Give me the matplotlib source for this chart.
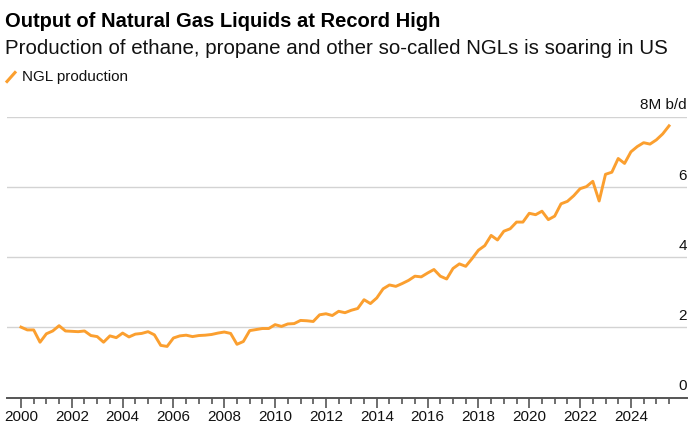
import matplotlib
matplotlib.use('Agg')
import matplotlib.pyplot as plt
import matplotlib.transforms as mtransforms
from matplotlib.lines import Line2D
import numpy as np

# quarterly NGL production, million barrels per day
start_year = 2000
ngl = [2.01, 1.93, 1.93, 1.58, 1.82, 1.90, 2.05, 1.90,   # 2000-2001
       1.89, 1.88, 1.90, 1.77, 1.74, 1.58, 1.76, 1.71,   # 2002-2003
       1.84, 1.73, 1.81, 1.83, 1.88, 1.79, 1.49, 1.46,   # 2004-2005
       1.70, 1.76, 1.78, 1.74, 1.77, 1.78, 1.80, 1.84,   # 2006-2007
       1.87, 1.83, 1.52, 1.60, 1.91, 1.94, 1.97, 1.97,   # 2008-2009
       2.08, 2.03, 2.10, 2.11, 2.20, 2.19, 2.17, 2.36,   # 2010-2011
       2.39, 2.34, 2.46, 2.42, 2.49, 2.54, 2.79, 2.68,   # 2012-2013
       2.84, 3.10, 3.21, 3.17, 3.25, 3.34, 3.46, 3.44,   # 2014-2015
       3.55, 3.65, 3.46, 3.38, 3.68, 3.81, 3.74, 3.96,   # 2016-2017
       4.20, 4.33, 4.62, 4.49, 4.74, 4.81, 5.00, 5.00,   # 2018-2019
       5.25, 5.21, 5.31, 5.07, 5.17, 5.52, 5.59, 5.75,   # 2020-2021
       5.95, 6.01, 6.16, 5.60, 6.36, 6.42, 6.81, 6.67,   # 2022-2023
       7.00, 7.15, 7.26, 7.22, 7.34, 7.51, 7.74]         # 2024-2025
dates = start_year + np.arange(len(ngl)) / 4.0

year_ticks = list(range(2000, 2025, 2))
y_ticks = [0, 2, 4, 6, 8]
y_labels = ['0', '2', '4', '6', '8M b/d']

orange = '#fb9f2f'
plt.rcParams['font.family'] = ['Liberation Sans', 'DejaVu Sans']

fig = plt.figure(figsize=(6.98, 4.30), dpi=100)
ax = fig.add_axes([0.010, 0.0751, 0.974, 0.6535])

ax.plot(dates, ngl, color=orange, lw=2.1, solid_joinstyle='round', zorder=3)

ax.set_xlim(1999.45, 2026.2)
ax.set_ylim(0, 8)

for v in y_ticks[1:]:
    ax.axhline(v, color='#d3d3d3', lw=1.0, zorder=1)

for s in ['top', 'right', 'left']:
    ax.spines[s].set_visible(False)
ax.spines['bottom'].set_color('#555555')
ax.spines['bottom'].set_linewidth(1.4)

# y labels sit above their gridlines, right aligned
ax.set_yticks([])
trans = mtransforms.blended_transform_factory(ax.transAxes, ax.transData)
for v, lab in zip(y_ticks, y_labels):
    ax.text(1.0, v + 0.12, lab, transform=trans, ha='right', va='bottom',
            fontsize=11, color='#111111')

ax.set_xticks(year_ticks)
ax.set_xticklabels([str(y) for y in year_ticks], fontsize=11, color='#111111')
ax.set_xticks(np.arange(2000, 2025.6, 0.5), minor=True)
ax.tick_params(axis='x', which='major', length=7, width=1.2, color='#555555', pad=2)
ax.tick_params(axis='x', which='minor', length=4, width=1.2, color='#555555')

fig.text(0.007, 1 - 27 / 430, 'Output of Natural Gas Liquids at Record High',
         fontsize=14.5, fontweight='bold', va='baseline', ha='left', color='#000000')
fig.text(0.007, 1 - 54 / 430,
         'Production of ethane, propane and other so-called NGLs is soaring in US',
         fontsize=14.8, va='baseline', ha='left', color='#111111')

fig.add_artist(Line2D([7 / 698, 15 / 698], [1 - 81.5 / 430, 1 - 72.5 / 430],
                      color=orange, lw=2.2, transform=fig.transFigure))
fig.text(22 / 698, 1 - 81 / 430, 'NGL production', fontsize=11,
         va='baseline', ha='left', color='#111111')

fig.savefig('out.png', dpi=100)
